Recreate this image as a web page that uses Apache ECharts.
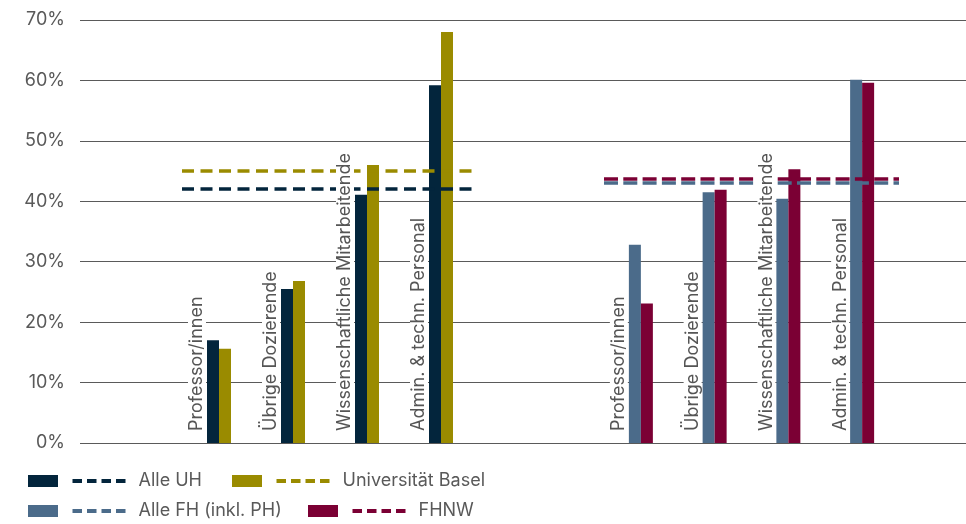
<!DOCTYPE html>
<html>
<head>
<meta charset="utf-8">
<script src="https://cdn.jsdelivr.net/npm/echarts@6/dist/echarts.min.js"></script>
<style>
  html, body { margin: 0; padding: 0; background: #fff; }
  #chart { width: 966px; height: 524px; }
</style>
</head>
<body>
<div id="chart"></div>
<script>
// ---- Data ----
const categories = ['Professor/innen', 'Übrige Dozierende', 'Wissenschaftliche Mitarbeitende', 'Admin. & techn. Personal'];
const yTicks = [0, 10, 20, 30, 40, 50, 60, 70];
const alleUH = [17.0, 25.5, 41.1, 59.2];
const uniBasel = [15.6, 26.8, 46.0, 68.0];
const alleFH = [32.8, 41.5, 40.4, 60.1];
const fhnw = [23.1, 41.9, 45.3, 59.6];
const alleUHAvg = 42.1;
const uniBaselAvg = 45.0;
const alleFHAvg = 43.0;
const fhnwAvg = 43.7;
const seriesNames = ['Alle UH', 'Universität Basel', 'Alle FH (inkl. PH)', 'FHNW'];

// ---- Styles ----
const C_UH = '#03253c', C_BS = '#9a8b00', C_FH = '#4b6b8a', C_FHNW = '#7b0034';
const FONT = 'Inter';
const legendIcon = 'path://M0,0H30V12H0Z M44.5,4H54V8H44.5Z M59,4H68.5V8H59Z M73.5,4H83V8H73.5Z M88,4H97.5V8H88Z';

const yMin = yTicks[0], yMax = yTicks[yTicks.length - 1], yStep = yTicks[1] - yTicks[0];

function catAxis(gridIndex) {
  return {
    type: 'category', gridIndex, data: categories, z: 6,
    axisLine: { show: false }, axisTick: { show: false },
    axisLabel: {
      show: true, inside: true, rotate: 90, interval: 0, margin: 9,
      verticalAlign: 'bottom', padding: [0, 0, 12, 0],
      formatter: v => '{a|' + v + '}',
      rich: { a: { backgroundColor: '#fff', lineHeight: 20, fontSize: 18, fontFamily: FONT, color: '#555', padding: [0, 3] } }
    }
  };
}
function hiddenY(gridIndex) {
  return { type: 'value', gridIndex, min: yMin, max: yMax, interval: yStep, show: false, splitLine: { show: false } };
}
function barSeries(name, data, color, avg, axisIdx, dash) {
  return {
    name, type: 'bar', data, xAxisIndex: axisIdx, yAxisIndex: axisIdx,
    barWidth: 12, barGap: '0%', itemStyle: { color }, emphasis: { disabled: true },
    markLine: {
      silent: true, symbol: 'none', label: { show: false }, emphasis: { disabled: true },
      lineStyle: { color, type: dash, width: 3.5 },
      data: [{ yAxis: avg }]
    }
  };
}
function legendAt(name, left, top) {
  return {
    show: true, left, top, padding: 0, orient: 'horizontal', selectedMode: false,
    itemWidth: 97.5, itemHeight: 12,
    data: [{ name, icon: legendIcon }],
    textStyle: { color: '#595959', fontSize: 18, fontFamily: FONT, padding: [0, 0, 0, 8] }
  };
}

const chart = echarts.init(document.getElementById('chart'), null, { renderer: 'canvas' });
chart.setOption({
  animation: false,
  backgroundColor: '#fff',
  grid: [
    { left: 80, right: 0, top: 20, bottom: 81, containLabel: false, outerBoundsMode: 'none' },
    { left: 182, width: 296, top: 20, bottom: 81, containLabel: false, outerBoundsMode: 'none' },
    { left: 604, width: 295, top: 20, bottom: 81, containLabel: false, outerBoundsMode: 'none' }
  ],
  xAxis: [
    { type: 'category', gridIndex: 0, data: [''], show: false },
    catAxis(1),
    catAxis(2)
  ],
  yAxis: [
    {
      type: 'value', gridIndex: 0, min: yMin, max: yMax, interval: yStep, z: 0,
      axisLine: { show: false }, axisTick: { show: false },
      axisLabel: { formatter: '{value}%', color: '#595959', fontSize: 18, fontFamily: FONT, margin: 15 },
      splitLine: { show: true, lineStyle: { color: '#5a5a5a', width: 1 } }
    },
    hiddenY(1),
    hiddenY(2)
  ],
  legend: [
    legendAt(seriesNames[0], 28, 472),
    legendAt(seriesNames[1], 232, 472),
    legendAt(seriesNames[2], 28, 502),
    legendAt(seriesNames[3], 308, 502)
  ],
  series: [
    barSeries(seriesNames[0], alleUH, C_UH, alleUHAvg, 1, [12, 6.5]),
    barSeries(seriesNames[1], uniBasel, C_BS, uniBaselAvg, 1, [12, 6.5]),
    barSeries(seriesNames[2], alleFH, C_FH, alleFHAvg, 2, [14, 5.3]),
    barSeries(seriesNames[3], fhnw, C_FHNW, fhnwAvg, 2, [14, 5.3])
  ]
});
</script>
</body>
</html>
